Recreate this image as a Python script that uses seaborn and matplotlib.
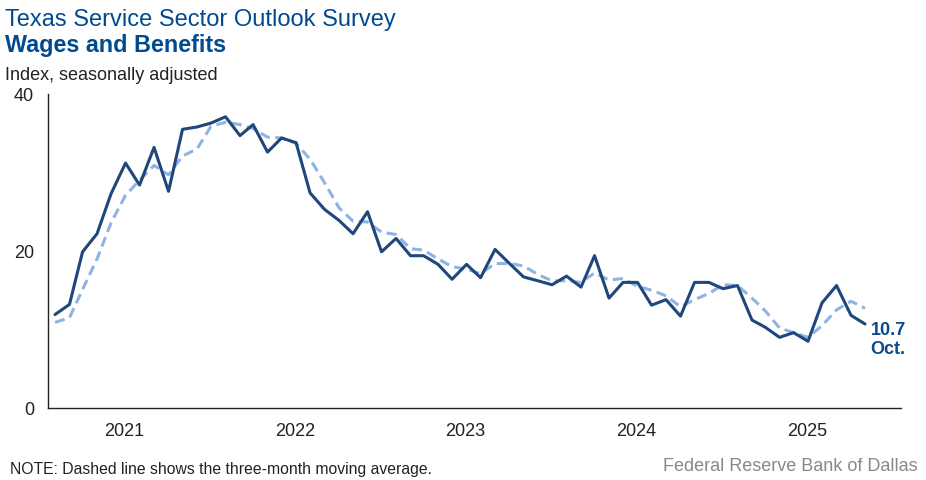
import numpy as np
import pandas as pd
import seaborn as sns
import matplotlib.pyplot as plt
import matplotlib.dates as mdates

# monthly index values, Jan 2021 - Oct 2025
months = pd.date_range('2021-01-01', '2025-10-01', freq='MS') + pd.Timedelta(days=15)
index_values = [11.9, 13.2, 19.9, 22.2, 27.3, 31.2, 28.4, 33.2, 27.6, 35.5, 35.8, 36.3,
                37.1, 34.7, 36.1, 32.6, 34.4, 33.8, 27.4, 25.3, 23.9, 22.2, 25.0, 19.9,
                21.6, 19.4, 19.4, 18.3, 16.4, 18.3, 16.6, 20.2, 18.4, 16.7, 16.2, 15.7,
                16.8, 15.4, 19.4, 14.0, 16.0, 16.0, 13.1, 13.8, 11.7, 16.0, 16.0, 15.2,
                15.6, 11.2, 10.3, 9.0, 9.6, 8.5, 13.4, 15.6, 11.8, 10.7]
# three-month moving average (dashed line)
moving_avg = [10.9, 11.5, 15.1, 19.0, 23.6, 27.1, 29.0, 30.9, 29.7, 32.1, 33.0, 35.9,
              36.4, 36.1, 35.6, 34.5, 34.4, 33.7, 31.7, 28.7, 25.5, 23.8, 23.7, 22.4,
              22.1, 20.3, 20.1, 19.0, 18.0, 17.7, 17.1, 18.4, 18.4, 18.1, 17.0, 16.2,
              16.2, 16.0, 17.2, 16.3, 16.5, 15.5, 15.0, 14.3, 12.9, 13.8, 14.6, 15.7,
              15.6, 14.0, 12.4, 10.2, 9.6, 9.0, 10.5, 12.5, 13.6, 12.7]
year_labels = ['2021', '2022', '2023', '2024', '2025']
last_label = '10.7\nOct.'

df = pd.DataFrame({'month': months, 'index': index_values, 'ma': moving_avg})

sns.set_style('white')
plt.rcParams['font.family'] = ['Liberation Sans', 'DejaVu Sans']

navy = '#1f477b'
light = '#8fb4e3'
title_blue = '#004a91'

fig = plt.figure(figsize=(9.26, 4.81), dpi=100)
ax = fig.add_axes([48/926, 1 - 409/481, 853/926, 314/481])

sns.lineplot(data=df, x='month', y='ma', ax=ax, color=light, linewidth=2.2,
             dashes=False, linestyle=(0, (3.3, 1.8)))
sns.lineplot(data=df, x='month', y='index', ax=ax, color=navy, linewidth=2.2)

ax.set_xlim(pd.Timestamp('2021-01-01'), pd.Timestamp('2026-01-01'))
ax.set_ylim(0, 40)
ax.set_yticks([0, 20, 40])
ax.set_xlabel('')
ax.set_ylabel('')

# year boundaries get the tick marks, labels sit a bit left of mid-year
ax.xaxis.set_major_locator(mdates.YearLocator())
ax.xaxis.set_major_formatter(plt.NullFormatter())
ax.set_xticks(pd.to_datetime([f'{y}-06-14' for y in year_labels]), minor=True)
ax.set_xticklabels(year_labels, minor=True)
ax.tick_params(axis='x', which='major', length=6, width=1, color='#222222', direction='out')
ax.tick_params(axis='x', which='minor', length=0, labelsize=13, pad=10, labelcolor='#222222')
ax.tick_params(axis='y', length=5, width=1, color='#222222', direction='out',
               labelsize=13, labelcolor='#222222', pad=5)

sns.despine(ax=ax)
for s in ['left', 'bottom']:
    ax.spines[s].set_color('#222222')
    ax.spines[s].set_linewidth(1)

ax.annotate(last_label, xy=(df['month'].iloc[-1], df['index'].iloc[-1]),
            xytext=(4, 2.5), textcoords='offset points', va='top', ha='left',
            fontsize=13, fontweight='bold', color='#0b4a8c', linespacing=1.2)

fig.text(5/926, 1 - 26/481, 'Texas Service Sector Outlook Survey', fontsize=17,
         color=title_blue, va='baseline')
fig.text(5/926, 1 - 52/481, 'Wages and Benefits', fontsize=16.8, fontweight='bold',
         color=title_blue, va='baseline')
fig.text(5/926, 1 - 80/481, 'Index, seasonally adjusted', fontsize=13,
         color='#222222', va='baseline')
fig.text(10/926, 1 - 474/481, 'NOTE: Dashed line shows the three-month moving average.',
         fontsize=11.3, color='#222222', va='baseline')
fig.text(918/926, 1 - 471/481, 'Federal Reserve Bank of Dallas', fontsize=13,
         color='#888888', va='baseline', ha='right')

fig.savefig('out.png', dpi=100)
